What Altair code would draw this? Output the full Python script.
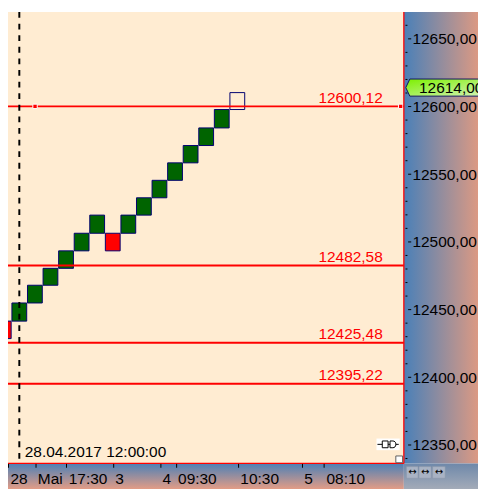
import altair as alt
import pandas as pd

S = 0.9836  # reference pixels -> page pixels (page has an 8px margin)


def P(v):
    return round(v * S, 2)


FONT = "Liberation Sans"
FS = 15.7
CREAM = "#FFECD2"

# ---------------- data ----------------
box_index = [0, 1, 2, 3, 4, 5, 6, 7, 8, 9, 10, 11, 12, 13, 14, 15]
box_low = [12428.6, 12441.5, 12454.9, 12468.0, 12480.5, 12493.4, 12506.4, 12493.4,
           12506.4, 12519.8, 12532.6, 12545.5, 12558.4, 12571.2, 12584.2, 12597.8]
box_high = [12441.5, 12454.9, 12468.0, 12480.5, 12493.4, 12506.4, 12519.8, 12506.4,
            12519.8, 12532.6, 12545.5, 12558.4, 12571.2, 12584.2, 12597.8, 12610.3]
box_kind = ["down", "up", "up", "up", "up", "up", "up", "down",
            "up", "up", "up", "up", "up", "up", "up", "open"]

level_values = [12600.12, 12482.58, 12425.48, 12395.22]
level_labels = ["12600,12", "12482,58", "12425,48", "12395,22"]
marker_x = [2.01, 25.49]

current_price = 12614.00
current_label = "12614,00"

date_x = 1.0
date_label = "28.04.2017 12:00:00"

y_ticks = [12350, 12400, 12450, 12500, 12550, 12600, 12650]
y_minor = [12340, 12360, 12370, 12380, 12390, 12410, 12420, 12430, 12440, 12460,
           12470, 12480, 12490, 12510, 12520, 12530, 12540, 12560, 12570, 12580,
           12590, 12610, 12620, 12630, 12640, 12660]

x_tick_pos = [0.28, 2.03, 4.02, 7.0, 10.04, 11.04, 15.04, 19.14, 20.57]
x_tick_labels = ["28", "Mai", "17:30", "3", "4", "09:30", "10:30", "5", "08:10"]

# ---------------- layout ----------------
W = P(409.3)
H = P(466.7)
PAD_R = round(478 - W, 2)
PAD_B = round(483 - H, 2)

xs = alt.Scale(domain=[0.273, 25.695], nice=False, zero=False)
ys = alt.Scale(domain=[12336.4, 12669.8], nice=False, zero=False)


def nested(vals, labs):
    expr = f"'{labs[-1]}'"
    for i in range(len(vals) - 2, -1, -1):
        mid = (vals[i] + vals[i + 1]) / 2
        expr = f"datum.value < {mid} ? '{labs[i]}' : ({expr})"
    return expr


x_axis = alt.Axis(values=x_tick_pos, labelExpr=nested(x_tick_pos, x_tick_labels),
                  orient="bottom", domain=False, grid=False, ticks=True,
                  tickSize=P(4), tickColor="black", tickWidth=1,
                  labelAlign="left", labelBaseline="middle", labelOffset=P(2),
                  labelPadding=P(11.3), labelFont=FONT, labelFontSize=FS,
                  labelColor="black", labelOverlap=False, labelFlush=False,
                  labelBound=False, title=None, zindex=3)

y_axis = alt.Axis(values=y_ticks,
                  labelExpr="replace(format(datum.value, '.2f'), '.', ',')",
                  orient="right", domain=False, grid=False, ticks=False, tickSize=0,
                  labelAlign="left", labelBaseline="middle", labelPadding=P(8.4),
                  labelFont=FONT, labelFontSize=FS, labelColor="black",
                  labelOverlap=False, labelFlush=False, labelBound=False,
                  title=None, zindex=3)


def XQ(field):
    return alt.X(field, type="quantitative", scale=xs, axis=x_axis)


def YQ(field):
    return alt.Y(field, type="quantitative", scale=ys, axis=y_axis)


one = pd.DataFrame({"a": [0]})

# background panels of the axes
bg_right = alt.Chart(one).mark_rect(
    fill=alt.Gradient(gradient="linear",
                      stops=[alt.GradientStop(color="#4A80B8", offset=0),
                             alt.GradientStop(color="#DF9A82", offset=1)],
                      x1=0, x2=1, y1=0, y2=0)
).encode(x=alt.value(W), x2=alt.value(W + PAD_R + 2), y=alt.value(0), y2=alt.value(H))

bg_bottom = alt.Chart(one).mark_rect(
    fill=alt.Gradient(gradient="linear",
                      stops=[alt.GradientStop(color="#4C80B6", offset=0),
                             alt.GradientStop(color="#E29C86", offset=1)],
                      x1=0, x2=0, y1=0, y2=1)
).encode(x=alt.value(0), x2=alt.value(W), y=alt.value(H), y2=alt.value(H + PAD_B + 2))

bg_corner = alt.Chart(one).mark_rect(
    fill=alt.Gradient(gradient="linear",
                      stops=[alt.GradientStop(color="#6E88AA", offset=0),
                             alt.GradientStop(color="#A3ABB8", offset=1)],
                      x1=0, x2=0, y1=0, y2=1)
).encode(x=alt.value(W), x2=alt.value(W + PAD_R + 2), y=alt.value(H), y2=alt.value(H + PAD_B + 2))

btn_layers = []
for bx0, bx1 in [(412, 424), (425, 437.5), (439, 452)]:
    btn_layers.append(alt.Chart(one).mark_rect(fill="#A9B3C4", stroke="#8C96A8", strokeWidth=0.5)
                      .encode(x=alt.value(P(bx0)), x2=alt.value(P(bx1)),
                              y=alt.value(P(470)), y2=alt.value(P(482))))
    btn_layers.append(alt.Chart(one).mark_text(text="↔", font="DejaVu Sans", fontSize=10,
                                               color="black", align="center", baseline="middle")
                      .encode(x=alt.value(P((bx0 + bx1) / 2)), y=alt.value(P(476))))

# renko boxes
box_df = pd.DataFrame({
    "x0": [i - 0.475 for i in box_index],
    "x1": [i + 0.475 for i in box_index],
    "low": box_low, "high": box_high, "kind": box_kind,
})
boxes = alt.Chart(box_df).mark_rect(stroke="#000070", strokeWidth=1).encode(
    x=XQ("x0"), x2="x1:Q",
    y=YQ("low"), y2="high:Q",
    fill=alt.Fill("kind:N", scale=alt.Scale(domain=["up", "down", "open"],
                                            range=["#006400", "#FF0000", "rgba(0,0,0,0)"]),
                  legend=None),
)

lvl_df = pd.DataFrame({"value": level_values, "label": level_labels})
level_lines = alt.Chart(lvl_df).mark_rule(color="#FF0000", strokeWidth=2).encode(
    y=YQ("value"))
level_text = alt.Chart(lvl_df).mark_text(align="right", baseline="alphabetic", dy=P(-4),
                                         color="#FF0000", font=FONT, fontSize=FS).encode(
    y=YQ("value"), x=alt.value(P(387.5)), text="label:N")

mk_df = pd.DataFrame({"x": marker_x, "value": [level_values[0]] * len(marker_x)})
markers = alt.Chart(mk_df).mark_square(size=20, fill="#FF0000", stroke="white",
                                       strokeWidth=1, opacity=1).encode(
    x=XQ("x"), y=YQ("value"))

date_df = pd.DataFrame({"x": [date_x], "label": [date_label]})
date_line = alt.Chart(date_df).mark_rule(color="black", strokeWidth=2,
                                         strokeDash=[P(6), P(6)]).encode(
    x=XQ("x"), y=alt.value(0), y2=alt.value(P(462)))
date_text = alt.Chart(date_df).mark_text(align="left", baseline="alphabetic", dx=P(5.6),
                                         color="black", font=FONT, fontSize=FS).encode(
    x=XQ("x"), y=alt.value(P(460)), text="label:N")

border_r = alt.Chart(one).mark_rule(color="#FF0000", strokeWidth=1.3).encode(
    x=alt.value(W), y=alt.value(0), y2=alt.value(H))
border_b = alt.Chart(one).mark_rule(color="#FF0000", strokeWidth=1.3).encode(
    y=alt.value(H), x=alt.value(0), x2=alt.value(W))

minor_df = pd.DataFrame({"v": y_minor})
minor_ticks = alt.Chart(minor_df).mark_rule(color="black", strokeWidth=1).encode(
    y=YQ("v"), x=alt.value(W + P(1.7)), x2=alt.value(W + P(3.7)))
major_df = pd.DataFrame({"v": y_ticks})
major_ticks = alt.Chart(major_df).mark_rule(color="black", strokeWidth=1).encode(
    y=YQ("v"), x=alt.value(W + P(4.4)), x2=alt.value(W + P(7.6)))

cur_df = pd.DataFrame({"v": [current_price], "label": [current_label]})
tag = alt.Chart(cur_df).mark_point(
    shape="M -1 0 L -0.9 -0.212 L 1 -0.212 L 1 0.212 L -0.9 0.212 Z",
    size=6724, filled=True, opacity=1, strokeWidth=1, stroke="#101060",
    fill=alt.Gradient(gradient="linear",
                      stops=[alt.GradientStop(color="#7CF000", offset=0),
                             alt.GradientStop(color="#D4F2B8", offset=1)],
                      x1=0, x2=1, y1=0, y2=1)
).encode(y=YQ("v"), x=alt.value(P(453)))
tag_text = alt.Chart(cur_df).mark_text(align="left", baseline="middle", dy=1, color="black",
                                       font=FONT, fontSize=FS).encode(
    y=YQ("v"), x=alt.value(P(425)), text="label:N")

# small icons in the lower right corner of the plot
icon_bg = alt.Chart(one).mark_rect(fill="white").encode(
    x=alt.value(P(381)), x2=alt.value(P(405)), y=alt.value(P(441)), y2=alt.value(P(453)))
icon_line = alt.Chart(one).mark_rule(color="black", strokeWidth=1).encode(
    x=alt.value(P(382)), x2=alt.value(P(404)), y=alt.value(P(447)))
icon_a = alt.Chart(one).mark_rect(fill="white", stroke="black", strokeWidth=1).encode(
    x=alt.value(P(387)), x2=alt.value(P(393)), y=alt.value(P(443.5)), y2=alt.value(P(450.5)))
icon_b = alt.Chart(one).mark_rect(fill="white", stroke="black", strokeWidth=1, cornerRadiusTopRight=3,
                                  cornerRadiusBottomRight=3).encode(
    x=alt.value(P(395)), x2=alt.value(P(401)), y=alt.value(P(443.5)), y2=alt.value(P(450.5)))
resize_sq = alt.Chart(one).mark_rect(fill="white", stroke="#606060", strokeWidth=1).encode(
    x=alt.value(P(401)), x2=alt.value(P(408)), y=alt.value(P(459)), y2=alt.value(P(466)))

chart = alt.layer(
    bg_right, bg_bottom, bg_corner, *btn_layers,
    boxes, level_lines, level_text, markers, date_line, date_text,
    border_r, border_b, minor_ticks, major_ticks, tag, tag_text,
    icon_bg, icon_line, icon_a, icon_b, resize_sq,
).properties(
    width=W, height=H,
    autosize=alt.AutoSizeParams(type="none"),
    padding={"left": 0, "top": 0, "right": PAD_R, "bottom": PAD_B},
    background="white",
).configure_view(fill=CREAM, stroke=None)

chart.save("out.html", embed_options={"renderer": "svg", "actions": False})
